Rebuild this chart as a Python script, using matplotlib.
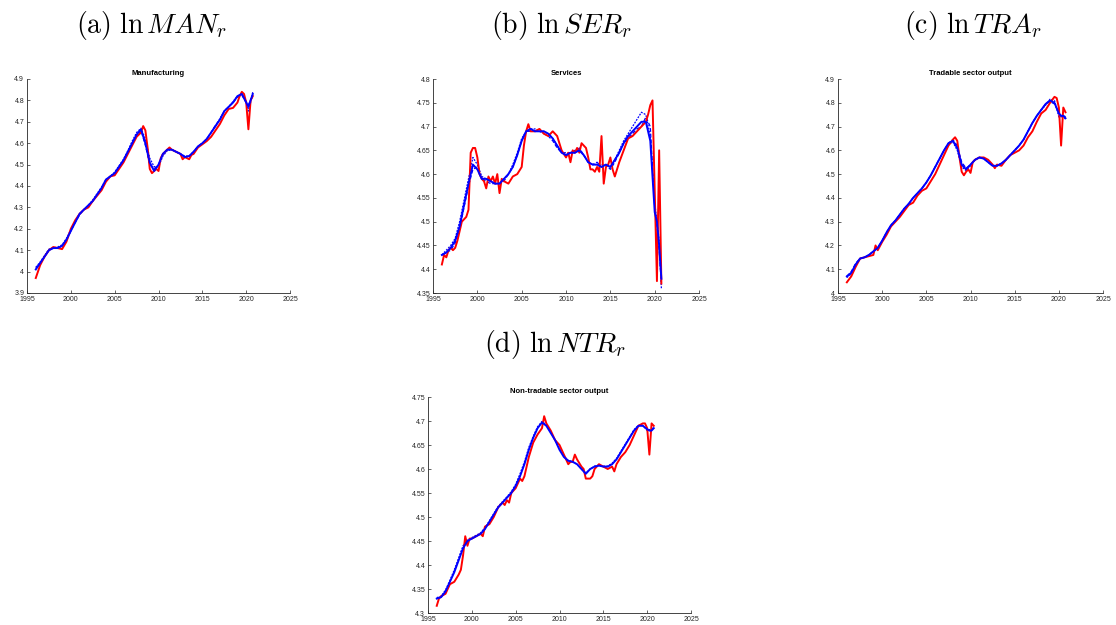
import numpy as np
import matplotlib
matplotlib.use("Agg")
import matplotlib.pyplot as plt

plt.rcParams["mathtext.fontset"] = "cm"
plt.rcParams["font.family"] = ["Liberation Sans", "DejaVu Sans"]

# common grid for the smoothed (blue) series
blue_x = list(np.arange(1996.0, 2020.01, 0.5)) + [2020.25, 2020.5, 2020.75]

# ---- (a) Manufacturing ----
man_red_x = [1996, 1996.5, 1997, 1997.5, 1998, 1998.5, 1999, 1999.5, 2000, 2000.5, 2001, 2001.5,
             2002, 2002.5, 2003, 2003.5, 2004, 2004.5, 2005, 2005.5, 2006, 2006.5, 2007, 2007.5,
             2008, 2008.25, 2008.5, 2008.75, 2009, 2009.25, 2009.5, 2009.75, 2010, 2010.25, 2010.5,
             2011, 2011.25, 2011.5, 2012, 2012.5, 2012.75, 2013, 2013.25, 2013.5, 2013.75, 2014,
             2014.5, 2015, 2015.5, 2016, 2016.5, 2017, 2017.5, 2018, 2018.5, 2019, 2019.25, 2019.5,
             2019.75, 2020, 2020.25, 2020.5, 2020.75]
man_red = [3.97, 4.03, 4.07, 4.10, 4.115, 4.11, 4.105, 4.14, 4.20, 4.24, 4.27, 4.29,
           4.30, 4.33, 4.355, 4.38, 4.42, 4.445, 4.45, 4.48, 4.51, 4.55, 4.59, 4.63,
           4.65, 4.68, 4.66, 4.58, 4.48, 4.46, 4.47, 4.48, 4.47, 4.53, 4.55,
           4.57, 4.58, 4.57, 4.56, 4.55, 4.525, 4.535, 4.53, 4.525, 4.545, 4.55,
           4.58, 4.595, 4.61, 4.63, 4.66, 4.69, 4.73, 4.76, 4.765, 4.79, 4.82, 4.84,
           4.83, 4.79, 4.665, 4.80, 4.82]
man_blue = [4.01, 4.04, 4.07, 4.10, 4.11, 4.11, 4.12, 4.15, 4.19, 4.23, 4.27, 4.29, 4.31, 4.33,
            4.36, 4.39, 4.43, 4.445, 4.46, 4.49, 4.52, 4.56, 4.60, 4.64, 4.665, 4.60, 4.51, 4.47,
            4.50, 4.55, 4.57, 4.57, 4.56, 4.55, 4.535, 4.54, 4.56, 4.585, 4.60, 4.62, 4.65, 4.68,
            4.71, 4.75, 4.77, 4.79, 4.82, 4.83, 4.79, 4.77, 4.80, 4.83]
man_blue_v1 = [4.02, 4.045, 4.075, 4.105, 4.11, 4.115, 4.125, 4.155, 4.195, 4.235, 4.27, 4.29,
               4.31, 4.335, 4.365, 4.395, 4.43, 4.445, 4.465, 4.495, 4.525, 4.565, 4.61, 4.65,
               4.67, 4.62, 4.53, 4.49, 4.49, 4.54, 4.565, 4.57, 4.56, 4.55, 4.54, 4.54, 4.56,
               4.585, 4.60, 4.62, 4.65, 4.68, 4.715, 4.75, 4.77, 4.795, 4.82, 4.83, 4.80, 4.75,
               4.79, 4.84]
man_blue_v2 = [4.015, 4.04, 4.07, 4.10, 4.11, 4.11, 4.12, 4.145, 4.19, 4.23, 4.265, 4.29, 4.31,
               4.33, 4.36, 4.39, 4.425, 4.445, 4.46, 4.49, 4.52, 4.56, 4.60, 4.635, 4.66, 4.59,
               4.50, 4.48, 4.50, 4.55, 4.57, 4.57, 4.56, 4.55, 4.535, 4.54, 4.56, 4.585, 4.60,
               4.62, 4.65, 4.685, 4.71, 4.75, 4.77, 4.79, 4.815, 4.825, 4.79, 4.78, 4.80, 4.82]

# ---- (b) Services ----
ser_red_x = [1996, 1996.25, 1996.5, 1996.75, 1997, 1997.25, 1997.5, 1997.75, 1998, 1998.25,
             1998.5, 1998.75, 1999, 1999.25, 1999.5, 1999.75, 2000, 2000.25, 2000.5, 2000.75,
             2001, 2001.25, 2001.5, 2001.75, 2002, 2002.25, 2002.5, 2002.75, 2003, 2003.5, 2004,
             2004.5, 2005, 2005.25, 2005.5, 2005.75, 2006, 2006.5, 2007, 2007.5, 2008, 2008.5,
             2009, 2009.5, 2010, 2010.25, 2010.5, 2010.75, 2011, 2011.25, 2011.5, 2011.75,
             2012.25, 2012.5, 2012.75, 2013, 2013.25, 2013.5, 2013.75, 2014, 2014.25, 2014.5,
             2014.75, 2015, 2015.25, 2015.5, 2016, 2016.5, 2017, 2017.5, 2018, 2018.5, 2019,
             2019.25, 2019.5, 2019.75, 2020.25, 2020.5, 2020.75]
ser_red = [4.41, 4.43, 4.425, 4.44, 4.445, 4.44, 4.445, 4.46, 4.48, 4.50,
           4.505, 4.51, 4.525, 4.645, 4.655, 4.655, 4.635, 4.60, 4.59, 4.585,
           4.57, 4.595, 4.585, 4.595, 4.58, 4.60, 4.56, 4.59, 4.585, 4.58, 4.595,
           4.60, 4.615, 4.66, 4.69, 4.705, 4.69, 4.69, 4.695, 4.685, 4.68, 4.69,
           4.68, 4.65, 4.635, 4.645, 4.625, 4.65, 4.645, 4.655, 4.645, 4.665,
           4.655, 4.635, 4.61, 4.61, 4.605, 4.615, 4.605, 4.68, 4.58, 4.615,
           4.62, 4.635, 4.61, 4.595, 4.625, 4.65, 4.675, 4.68, 4.69, 4.70, 4.71,
           4.725, 4.745, 4.755, 4.375, 4.65, 4.37]
ser_blue = [4.43, 4.435, 4.445, 4.46, 4.49, 4.535, 4.58, 4.62, 4.61, 4.59, 4.59, 4.585, 4.58,
            4.58, 4.59, 4.60, 4.615, 4.64, 4.67, 4.69, 4.695, 4.69, 4.69, 4.69, 4.685, 4.675,
            4.66, 4.645, 4.64, 4.645, 4.645, 4.65, 4.64, 4.625, 4.62, 4.62, 4.615, 4.62, 4.615,
            4.63, 4.645, 4.665, 4.68, 4.69, 4.70, 4.71, 4.71, 4.67, 4.52, 4.50, 4.45, 4.38]
ser_blue_v1 = [4.43, 4.44, 4.45, 4.465, 4.50, 4.545, 4.59, 4.635, 4.62, 4.595, 4.59, 4.585, 4.58,
               4.58, 4.59, 4.60, 4.62, 4.645, 4.675, 4.69, 4.695, 4.695, 4.69, 4.69, 4.685,
               4.675, 4.66, 4.645, 4.64, 4.645, 4.65, 4.65, 4.64, 4.625, 4.62, 4.62, 4.62, 4.62,
               4.615, 4.63, 4.65, 4.67, 4.685, 4.70, 4.715, 4.73, 4.725, 4.68, 4.54, 4.50, 4.46,
               4.36]
ser_blue_v2 = [4.43, 4.435, 4.44, 4.455, 4.485, 4.53, 4.575, 4.61, 4.615, 4.59, 4.585, 4.58,
               4.58, 4.58, 4.585, 4.60, 4.615, 4.64, 4.67, 4.69, 4.69, 4.69, 4.69, 4.685, 4.68,
               4.67, 4.655, 4.645, 4.645, 4.645, 4.645, 4.655, 4.64, 4.625, 4.62, 4.625, 4.615,
               4.62, 4.61, 4.625, 4.645, 4.665, 4.675, 4.685, 4.695, 4.70, 4.72, 4.70, 4.53,
               4.49, 4.44, 4.37]

# ---- (c) Tradable sector output ----
tra_red_x = [1996, 1996.5, 1997, 1997.5, 1998, 1998.5, 1999, 1999.25, 1999.5, 2000, 2000.5,
             2001, 2001.5, 2002, 2002.5, 2003, 2003.5, 2004, 2004.5, 2005, 2005.5, 2006, 2006.5,
             2007, 2007.5, 2008, 2008.25, 2008.5, 2008.75, 2009, 2009.25, 2009.5, 2009.75, 2010,
             2010.25, 2010.5, 2011, 2011.5, 2012, 2012.5, 2012.75, 2013, 2013.5, 2014, 2014.5,
             2015, 2015.5, 2016, 2016.5, 2017, 2017.5, 2018, 2018.5, 2019, 2019.5, 2019.75, 2020,
             2020.25, 2020.5, 2020.75]
tra_red = [4.045, 4.07, 4.11, 4.145, 4.15, 4.155, 4.16, 4.20, 4.18, 4.215, 4.245,
           4.28, 4.30, 4.32, 4.345, 4.37, 4.38, 4.41, 4.43, 4.44, 4.47, 4.50, 4.54,
           4.58, 4.62, 4.645, 4.655, 4.64, 4.57, 4.51, 4.495, 4.51, 4.52, 4.505,
           4.55, 4.56, 4.57, 4.57, 4.56, 4.54, 4.525, 4.54, 4.535, 4.56, 4.58,
           4.59, 4.60, 4.62, 4.655, 4.68, 4.72, 4.755, 4.77, 4.80, 4.825, 4.82, 4.78,
           4.62, 4.78, 4.76]
tra_blue = [4.07, 4.085, 4.12, 4.145, 4.15, 4.16, 4.175, 4.19, 4.22, 4.255, 4.285, 4.305, 4.33,
            4.355, 4.375, 4.40, 4.42, 4.44, 4.465, 4.495, 4.53, 4.565, 4.60, 4.63, 4.64, 4.61,
            4.54, 4.52, 4.54, 4.56, 4.57, 4.565, 4.55, 4.535, 4.535, 4.545, 4.56, 4.58, 4.60,
            4.62, 4.645, 4.68, 4.715, 4.745, 4.77, 4.795, 4.81, 4.80, 4.755, 4.745, 4.745, 4.735]
tra_blue_v1 = [4.065, 4.08, 4.12, 4.145, 4.15, 4.16, 4.175, 4.19, 4.22, 4.255, 4.285, 4.305,
               4.33, 4.355, 4.375, 4.40, 4.42, 4.44, 4.465, 4.495, 4.53, 4.565, 4.60, 4.625,
               4.635, 4.60, 4.53, 4.515, 4.535, 4.56, 4.57, 4.565, 4.55, 4.535, 4.535, 4.545,
               4.56, 4.58, 4.60, 4.62, 4.645, 4.68, 4.715, 4.745, 4.77, 4.79, 4.815, 4.81, 4.74,
               4.75, 4.745, 4.73]
tra_blue_v2 = [4.07, 4.09, 4.125, 4.145, 4.15, 4.16, 4.175, 4.19, 4.22, 4.255, 4.285, 4.305,
               4.33, 4.355, 4.375, 4.40, 4.42, 4.44, 4.465, 4.495, 4.53, 4.565, 4.60, 4.63,
               4.645, 4.62, 4.55, 4.525, 4.54, 4.56, 4.57, 4.565, 4.55, 4.535, 4.535, 4.545,
               4.56, 4.58, 4.60, 4.62, 4.645, 4.68, 4.715, 4.745, 4.77, 4.795, 4.805, 4.795,
               4.76, 4.74, 4.75, 4.74]

# ---- (d) Non-tradable sector output ----
ntr_red_x = [1996, 1996.25, 1996.5, 1997, 1997.5, 1998, 1998.5, 1998.75, 1999, 1999.25, 1999.5,
             1999.75, 2000, 2000.5, 2001, 2001.25, 2001.5, 2002, 2002.5, 2003, 2003.5, 2003.75,
             2004, 2004.25, 2004.5, 2005, 2005.5, 2005.75, 2006, 2006.5, 2007, 2007.5, 2008,
             2008.25, 2008.5, 2009, 2009.5, 2010, 2010.5, 2011, 2011.25, 2011.5, 2011.75, 2012,
             2012.5, 2012.75, 2013, 2013.5, 2013.75, 2014, 2014.5, 2015, 2015.5, 2016, 2016.25,
             2016.5, 2017, 2017.5, 2018, 2018.5, 2019, 2019.5, 2019.75, 2020, 2020.25, 2020.5,
             2020.75]
ntr_red = [4.315, 4.33, 4.335, 4.34, 4.36, 4.365, 4.38, 4.39, 4.42, 4.46, 4.44,
           4.455, 4.455, 4.46, 4.465, 4.46, 4.48, 4.485, 4.50, 4.52, 4.53, 4.525,
           4.535, 4.53, 4.55, 4.56, 4.58, 4.575, 4.585, 4.625, 4.655, 4.672, 4.685,
           4.71, 4.695, 4.68, 4.66, 4.65, 4.63, 4.61, 4.615, 4.615, 4.63, 4.62,
           4.605, 4.60, 4.58, 4.58, 4.585, 4.60, 4.61, 4.605, 4.60, 4.605, 4.595,
           4.61, 4.625, 4.635, 4.65, 4.67, 4.69, 4.695, 4.695, 4.685, 4.63, 4.695,
           4.69]
ntr_blue = [4.33, 4.333, 4.345, 4.365, 4.385, 4.41, 4.435, 4.45, 4.455, 4.46, 4.465, 4.475, 4.49,
            4.505, 4.52, 4.53, 4.54, 4.55, 4.565, 4.585, 4.61, 4.64, 4.665, 4.685, 4.697, 4.69,
            4.675, 4.66, 4.64, 4.625, 4.617, 4.615, 4.61, 4.60, 4.59, 4.60, 4.605, 4.607, 4.605,
            4.605, 4.61, 4.62, 4.635, 4.65, 4.665, 4.68, 4.69, 4.69, 4.683, 4.68, 4.68, 4.685]
ntr_blue_v1 = [4.332, 4.335, 4.348, 4.368, 4.39, 4.415, 4.44, 4.452, 4.457, 4.462, 4.467, 4.478,
               4.492, 4.507, 4.522, 4.532, 4.542, 4.553, 4.568, 4.59, 4.615, 4.645, 4.668,
               4.688, 4.699, 4.692, 4.677, 4.66, 4.642, 4.627, 4.618, 4.615, 4.61, 4.60, 4.592,
               4.60, 4.606, 4.608, 4.606, 4.606, 4.612, 4.622, 4.637, 4.652, 4.667, 4.682,
               4.691, 4.691, 4.68, 4.682, 4.683, 4.688]

panels = [
    ("Manufacturing", r"$\mathrm{(a)}\ \ln MAN_r$", man_red_x, man_red, man_blue, man_blue_v1,
     man_blue_v2, (3.9, 4.9), np.arange(3.9, 4.91, 0.1)),
    ("Services", r"$\mathrm{(b)}\ \ln SER_r$", ser_red_x, ser_red, ser_blue, ser_blue_v1,
     ser_blue_v2, (4.35, 4.8), np.arange(4.35, 4.81, 0.05)),
    ("Tradable sector output", r"$\mathrm{(c)}\ \ln TRA_r$", tra_red_x, tra_red, tra_blue,
     tra_blue_v1, tra_blue_v2, (4.0, 4.9), np.arange(4.0, 4.91, 0.1)),
    ("Non-tradable sector output", r"$\mathrm{(d)}\ \ln NTR_r$", ntr_red_x, ntr_red, ntr_blue,
     ntr_blue_v1, None, (4.3, 4.75), np.arange(4.3, 4.76, 0.05)),
]

# axes boxes in figure fractions and caption positions
boxes = [
    [0.0242, 0.5312, 0.2357, 0.3424],
    [0.3880, 0.5312, 0.2384, 0.3424],
    [0.7509, 0.5312, 0.2375, 0.3424],
    [0.3835, 0.0192, 0.2357, 0.3456],
]
captions = [(0.136, 0.96), (0.503, 0.96), (0.872, 0.96), (0.497, 0.449)]

fig = plt.figure(figsize=(11.16, 6.25), dpi=100)
axis_gray = "#262626"

for (title, cap, rx, ry, b, v1, v2, ylim, yticks), box, (cx, cy) in zip(panels, boxes, captions):
    ax = fig.add_axes(box)
    ax.plot(blue_x, v1, color="blue", lw=0.9, ls=(0, (1.5, 1)))
    if v2 is not None:
        ax.plot(blue_x, v2, color="blue", lw=0.9, ls=(0, (3, 1.5)))
    ax.plot(rx, ry, color="red", lw=1.4)
    ax.plot(blue_x, b, color="blue", lw=1.4)
    ax.set_xlim(1995, 2025)
    ax.set_ylim(*ylim)
    ax.set_xticks(range(1995, 2026, 5))
    ax.set_yticks(yticks)
    ax.set_yticklabels(["{:g}".format(round(t, 2)) for t in yticks])
    ax.set_title(title, fontsize=5.5, fontweight="bold", pad=3, color="black")
    for s in ["top", "right"]:
        ax.spines[s].set_visible(False)
    for s in ["left", "bottom"]:
        ax.spines[s].set_linewidth(0.6)
        ax.spines[s].set_color(axis_gray)
    ax.tick_params(direction="in", length=2, width=0.5, labelsize=5, colors=axis_gray, pad=2)
    fig.text(cx, cy, cap, fontsize=20, ha="center", va="center")

fig.savefig("out.png", dpi=100)
